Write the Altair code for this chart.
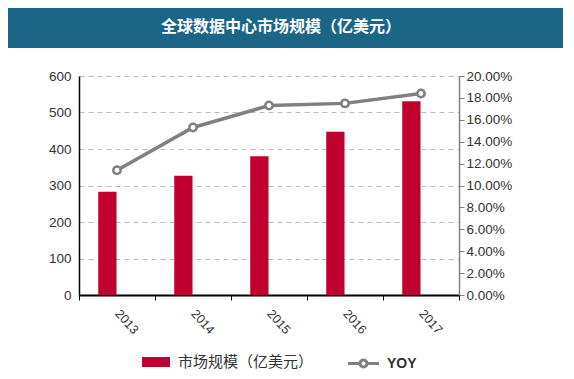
import altair as alt
import pandas as pd

years = ["2013", "2014", "2015", "2016", "2017"]
market = [283, 327, 380, 447, 531]
yoy = [0.114, 0.153, 0.173, 0.175, 0.184]
left_ticks = [0, 100, 200, 300, 400, 500, 600]
right_ticks = [0, 0.02, 0.04, 0.06, 0.08, 0.10, 0.12, 0.14, 0.16, 0.18, 0.20]
title_text = "全球数据中心市场规模（亿美元）"
bar_name = "市场规模（亿美元）"
line_name = "YOY"

RED = "#C0002F"
GREY = "#808080"
BANNER = "#1B6687"
FONT = "Liberation Sans"
CJK = "Noto Sans CJK SC"

df = pd.DataFrame({
    "year": years,
    "market": market,
    "yoy": yoy,
    "s1": bar_name,
    "s2": line_name,
    "slot": "bar",
})

W, H = 380, 219

x_enc = alt.X(
    "year:N",
    scale=alt.Scale(paddingInner=0, paddingOuter=0),
    axis=alt.Axis(
        title=None, tickBand="extent", labelAngle=48, labelAlign="left",
        labelBaseline="middle", labelPadding=11, tickSize=5, tickColor="#000",
        domainColor="#000", domainWidth=2, labelFont=FONT, labelFontSize=12.5,
        labelColor="#333", grid=False,
    ),
)

bars = alt.Chart(df).mark_bar().encode(
    x=x_enc,
    xOffset=alt.XOffset("slot:N", scale=alt.Scale(domain=["p0", "bar", "p1", "p2"], paddingInner=0.05, paddingOuter=0)),
    y=alt.Y(
        "market:Q",
        scale=alt.Scale(domain=[0, 600], nice=False),
        axis=alt.Axis(
            title=None, orient="left", values=left_ticks, tickSize=0, labelPadding=8,
            domainColor="#000", domainWidth=1.5, grid=True, gridColor="#BBBBBB",
            gridDash=[5, 4], labelFont=FONT, labelFontSize=13.5, labelColor="#333",
        ),
    ),
    color=alt.Color(
        "s1:N",
        scale=alt.Scale(domain=[bar_name], range=[RED]),
        legend=alt.Legend(
            title=None, orient="none", legendX=67, legendY=276,
            symbolType="M-1.4,-0.5H1.4V0.5H-1.4Z", symbolSize=400,
            symbolStrokeWidth=0, labelOffset=12, labelFont=CJK, labelFontSize=15,
            labelColor="#333",
        ),
    ),
)

right_axis = alt.Axis(
    title=None, orient="right", values=right_ticks, format=".2%", tickSize=5,
    tickColor=GREY, domainColor=GREY, domainWidth=1.5, labelPadding=2, grid=False,
    labelFont=FONT, labelFontSize=13.5, labelColor="#333",
)

line = alt.Chart(df).mark_line(strokeWidth=3.5).encode(
    x=alt.X("year:N"),
    y=alt.Y("yoy:Q", scale=alt.Scale(domain=[0, 0.2], nice=False), axis=right_axis),
    color=alt.Color(
        "s2:N",
        scale=alt.Scale(domain=[line_name], range=[GREY]),
        legend=alt.Legend(
            title=None, orient="none", legendX=273, legendY=276,
            symbolType="M-1.55,0H-0.35M0.35,0H1.55M-0.35,0A0.35,0.35 0 1,0 0.35,0A0.35,0.35 0 1,0 -0.35,0",
            symbolSize=400, symbolStrokeWidth=3, symbolFillColor="white",
            labelOffset=12, labelFont=FONT, labelFontSize=14, labelColor="#333",
            labelFontWeight="bold",
        ),
    ),
)

points = alt.Chart(df).mark_point(
    filled=True, fill="white", stroke=GREY, strokeWidth=2.5, size=55, opacity=1
).encode(
    x=alt.X("year:N"),
    y=alt.Y("yoy:Q", scale=alt.Scale(domain=[0, 0.2], nice=False), axis=right_axis),
)

banner_df = pd.DataFrame({"t": [title_text]})
banner = alt.Chart(banner_df).mark_rect(color=BANNER).encode(
    x=alt.value(-71), x2=alt.value(484), y=alt.value(-68), y2=alt.value(-28)
)
title = alt.Chart(banner_df).mark_text(
    color="white", font=CJK, fontSize=16, fontWeight="bold", align="center", baseline="middle"
).encode(x=alt.value(202), y=alt.value(-49), text="t:N")

chart = alt.layer(
    banner, title, bars, alt.layer(line, points)
).resolve_scale(
    y="independent", color="independent"
).properties(
    width=W, height=H, padding=0
).configure_view(stroke=None)

chart.save("out.html", embed_options={"renderer": "svg", "actions": False})
